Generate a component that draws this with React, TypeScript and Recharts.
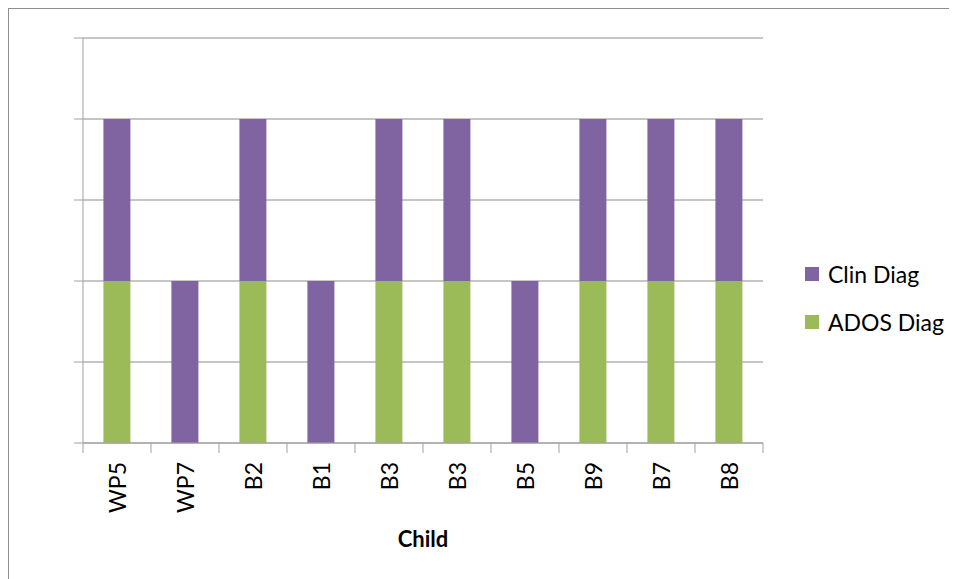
import React from 'react';
import { BarChart, Bar, XAxis, YAxis, CartesianGrid, Legend } from 'recharts';

const categories = ['WP5', 'WP7', 'B2', 'B1', 'B3', 'B3', 'B5', 'B9', 'B7', 'B8'];
const adosDiag = [2, 0, 2, 0, 2, 2, 0, 2, 2, 2];
const clinDiag = [2, 2, 2, 2, 2, 2, 2, 2, 2, 2];
const yTicks = [0, 1, 2, 3, 4, 5];

const data = categories.map((name, i) => ({ name, ados: adosDiag[i], clin: clinDiag[i] }));

const FONT = 'Lato, "Open Sans", sans-serif';
const PURPLE = '#8064A2';
const GREEN = '#9BBB59';
const AXIS = '#a0a0a0';
const TICK_MARGIN = 19;
const TICK_LEN = 10;

const CatTick = (props: any) => {
  const { x, y, payload } = props;
  const half = payload && typeof payload.offset === 'number' ? payload.offset : 0;
  const axisY = y - TICK_MARGIN;
  const isLast = payload && payload.index === categories.length - 1;
  return (
    <g>
      <line x1={x - half} x2={x - half} y1={axisY} y2={axisY + TICK_LEN} stroke={AXIS} />
      {isLast && <line x1={x + half} x2={x + half} y1={axisY} y2={axisY + TICK_LEN} stroke={AXIS} />}
      <text
        x={0}
        y={0}
        transform={`translate(${x + 1},${y}) rotate(-90)`}
        textAnchor="end"
        dy="0.35em"
        fontFamily={FONT}
        fontSize={23}
        fill="#000"
      >
        {payload.value}
      </text>
    </g>
  );
};

const LegendContent = () => {
  const items = [
    { label: 'Clin Diag', color: PURPLE },
    { label: 'ADOS Diag', color: GREEN },
  ];
  return (
    <div style={{ fontFamily: FONT, fontSize: 23, color: '#000' }}>
      {items.map((it) => (
        <div key={it.label} style={{ display: 'flex', alignItems: 'center', height: 48, whiteSpace: 'nowrap' }}>
          <span style={{ display: 'inline-block', width: 14, height: 14, background: it.color, marginRight: 9 }} />
          <span>{it.label}</span>
        </div>
      ))}
    </div>
  );
};

export default function App() {
  return (
    <div
      style={{
        width: 960,
        height: 590,
        marginLeft: -1,
        marginTop: -1,
        borderLeft: '2px solid #8e8e8e',
        borderTop: '2px solid #8e8e8e',
        background: '#fff',
        boxSizing: 'content-box',
      }}
    >
      <BarChart
        width={940}
        height={570}
        data={data}
        margin={{ top: 29, left: 65, right: 186, bottom: 135 }}
        barCategoryGap="30%"
      >
        <CartesianGrid vertical={false} stroke="#8c8c8c" strokeWidth={1} />
        <XAxis
          dataKey="name"
          height={1}
          axisLine={{ stroke: AXIS }}
          tickLine={false}
          tickSize={0}
          tickMargin={TICK_MARGIN}
          interval={0}
          tick={<CatTick />}
          label={{
            value: 'Child',
            position: 'bottom',
            offset: 87,
            style: { fontFamily: FONT, fontSize: 22, fontWeight: 700, fill: '#000' },
          }}
        />
        <YAxis
          width={9}
          domain={[0, 5]}
          ticks={yTicks}
          axisLine={{ stroke: AXIS }}
          tickLine={{ stroke: AXIS }}
          tickSize={9}
          tickFormatter={() => ''}
        />
        <Legend
          layout="vertical"
          align="center"
          verticalAlign="middle"
          content={<LegendContent />}
          wrapperStyle={{ left: 796, top: 241, width: 150 }}
        />
        <Bar dataKey="ados" name="ADOS Diag" stackId="a" fill={GREEN} isAnimationActive={false} />
        <Bar dataKey="clin" name="Clin Diag" stackId="a" fill={PURPLE} isAnimationActive={false} />
      </BarChart>
    </div>
  );
}
